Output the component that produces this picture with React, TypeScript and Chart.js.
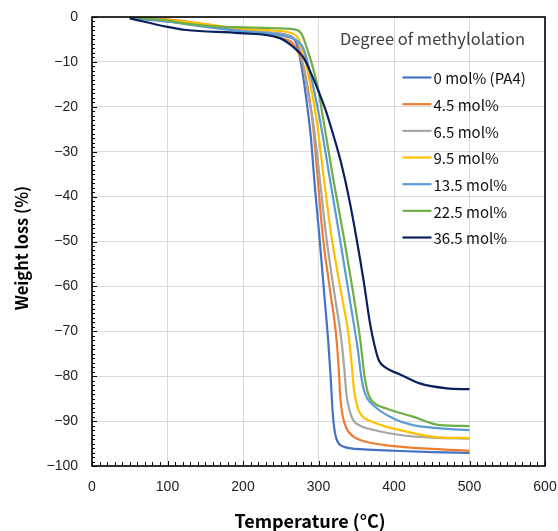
import React, { useEffect, useRef } from "react";
import { Chart, registerables } from "chart.js";

Chart.register(...registerables);

// ---- Data ----
const seriesLabels = ["0 mol% (PA4)", "4.5 mol%", "6.5 mol%", "9.5 mol%", "13.5 mol%", "22.5 mol%", "36.5 mol%"];
const seriesColors = ["#4472C4", "#ED7D31", "#A5A5A5", "#FFC000", "#5B9BD5", "#70AD47", "#0B1F5E"];
const legendTitle = "Degree of methylolation";
const xTitle = "Temperature (°C)";
const yTitle = "Weight loss (%)";
const xTicks = [0, 100, 200, 300, 400, 500, 600];
const yTicks = [0, -10, -20, -30, -40, -50, -60, -70, -80, -90, -100];

const temp0 = [50, 100, 150, 200, 240, 258, 271, 278, 284, 290, 295, 301, 307, 313, 316, 319, 322, 326, 335, 360, 400, 450, 500];
const loss0 = [-0.2, -1.0, -2.0, -3.0, -3.6, -4.0, -6.0, -11.5, -18.5, -27, -37.5, -48.5, -60.5, -72.5, -80, -88.5, -92.8, -94.8, -95.8, -96.3, -96.6, -96.9, -97.1];

const temp45 = [50, 100, 150, 200, 230, 249, 266, 280, 286, 292, 299, 305.5, 315, 324, 327, 329, 332, 337, 345, 355, 386, 450, 500];
const loss45 = [0, -0.5, -1.6, -3.0, -3.8, -4.7, -5.9, -11, -16, -23, -36, -48.5, -60.5, -72, -79, -85, -88.8, -91.6, -93.3, -94.2, -95.3, -96.2, -96.6];

const temp65 = [50, 100, 150, 200, 240, 262, 273, 280, 287, 293, 302, 310, 321, 330, 334, 337, 341, 346, 355, 364, 408, 452, 500];
const loss65 = [-0.1, -0.8, -1.8, -2.9, -3.5, -4.4, -5.9, -11, -18, -23.5, -36.5, -48.5, -61.5, -71.5, -78, -84, -87.5, -89.8, -91, -91.6, -93.1, -93.7, -93.9];

const temp95 = [50, 100, 150, 200, 240, 262, 273, 280, 289, 298, 306, 316, 329, 340, 344, 347, 351, 356, 370, 408, 452, 500];
const loss95 = [0, -0.7, -1.6, -2.6, -3.0, -3.5, -4.7, -8.1, -14.8, -23.5, -34.5, -47.5, -60.5, -71, -77.5, -83, -86.5, -88.5, -90.1, -92, -93.5, -93.8];

const temp135 = [50, 100, 150, 200, 240, 253, 268, 280, 289, 302, 315, 328, 341, 352, 357, 362, 375, 399, 425, 461, 500];
const loss135 = [-0.1, -1.0, -2.2, -3.2, -3.8, -4.2, -5.0, -7.0, -12.5, -23, -36, -49, -62.5, -74, -80.5, -84, -86.8, -89.4, -90.9, -91.6, -92.0];

const temp225 = [50, 100, 130, 174, 200, 245, 266, 277, 284, 293, 300, 306, 313, 320, 334, 344, 355, 361, 366, 372, 390, 425, 461, 500];
const loss225 = [0, -0.8, -1.6, -2.2, -2.3, -2.5, -2.7, -3.6, -6.6, -11.5, -16.5, -22.5, -29.5, -36.5, -49.5, -59.5, -71.5, -80, -84, -85.7, -87.2, -89, -90.9, -91.1];

const temp365 = [50, 100, 125, 196, 249, 266, 280, 290, 300, 310, 320, 330, 340, 350, 360, 368, 374, 380, 390, 408, 434, 470, 500];
const loss365 = [-0.3, -2.2, -2.9, -3.6, -4.7, -6.6, -9, -12.5, -16.5, -21, -26.5, -32.5, -40, -49, -59, -68, -73, -76.5, -78.2, -79.6, -81.6, -82.7, -82.9];

const seriesTemps = [temp0, temp45, temp65, temp95, temp135, temp225, temp365];
const seriesLoss = [loss0, loss45, loss65, loss95, loss135, loss225, loss365];

const JP = "'Noto Sans CJK JP', 'Noto Sans', sans-serif";
const TICKFONT = "'Liberation Sans', Arial, sans-serif";

const framePlugin = {
  id: "frameAndLegend",
  afterDatasetsDraw(chart: any) {
    const { ctx, chartArea: a, scales } = chart;
    const x = scales.x;
    const y = scales.y;
    ctx.save();
    // minor + major tick marks (inside the plot)
    ctx.strokeStyle = "#000";
    ctx.lineWidth = 1;
    ctx.beginPath();
    for (let v = xTicks[0]; v <= xTicks[xTicks.length - 1]; v += 10) {
      const px = Math.round(x.getPixelForValue(v)) + 0.5;
      const len = v % 100 === 0 ? 5 : 4;
      ctx.moveTo(px, a.bottom);
      ctx.lineTo(px, a.bottom - len);
    }
    for (let v = -100; v <= 0; v += 1) {
      const py = Math.round(y.getPixelForValue(v)) + 0.5;
      const len = v % 10 === 0 ? 5 : 3;
      ctx.moveTo(a.left, py);
      ctx.lineTo(a.left + len, py);
    }
    ctx.stroke();
    // frame
    ctx.lineWidth = 1.6;
    ctx.strokeRect(a.left, a.top, a.right - a.left, a.bottom - a.top);

    // axis titles
    ctx.fillStyle = "#000";
    ctx.textAlign = "center";
    ctx.textBaseline = "middle";
    ctx.font = `bold 18px ${JP}`;
    ctx.fillText(xTitle, 310, 521);
    ctx.save();
    ctx.translate(21.5, 248);
    ctx.rotate(-Math.PI / 2);
    ctx.font = `bold 16.5px ${JP}`;
    ctx.fillText(yTitle, 0, 0);
    ctx.restore();

    // legend
    ctx.textBaseline = "middle";
    ctx.textAlign = "left";
    ctx.fillStyle = "#404040";
    ctx.font = `16.5px ${JP}`;
    ctx.fillText(legendTitle, 340, 39);
    ctx.font = `15px ${JP}`;
    chart.data.datasets.forEach((ds: any, i: number) => {
      const cy = 77.5 + i * 26.67;
      ctx.strokeStyle = ds.borderColor;
      ctx.lineWidth = 2.2;
      ctx.beginPath();
      ctx.moveTo(402.5, cy);
      ctx.lineTo(431.5, cy);
      ctx.stroke();
      ctx.fillStyle = "#111";
      ctx.fillText(ds.label, 433.5, cy + 1);
    });
    ctx.restore();
  },
};

export default function App() {
  const ref = useRef<HTMLCanvasElement | null>(null);
  useEffect(() => {
    if (!ref.current) return;
    const datasets = seriesLabels.map((label, i) => ({
      label,
      data: seriesTemps[i].map((t, j) => ({ x: t, y: seriesLoss[i][j] })),
      borderColor: seriesColors[i],
      backgroundColor: seriesColors[i],
      borderWidth: 2.2,
      pointRadius: 0,
      cubicInterpolationMode: "monotone" as const,
      fill: false,
      order: seriesLabels.length - 1 - i,
    }));
    const chart = new Chart(ref.current, {
      type: "line",
      data: { datasets },
      options: {
        animation: false,
        responsive: false,
        devicePixelRatio: 1,
        layout: { padding: { top: 17, right: 13, left: 0, bottom: 0 } },
        plugins: { legend: { display: false }, tooltip: { enabled: false } },
        scales: {
          x: {
            type: "linear",
            min: xTicks[0],
            max: xTicks[xTicks.length - 1],
            afterBuildTicks: (s: any) => {
              s.ticks = xTicks.map((v) => ({ value: v }));
            },
            afterFit: (s: any) => {
              s.height = 65;
              s.paddingLeft = 0;
              s.paddingRight = 0;
            },
            grid: { color: "#d9d9d9", lineWidth: 1, drawTicks: false },
            border: { display: false },
            ticks: { padding: 13, color: "#222", font: { size: 14, family: TICKFONT } },
            title: { display: false },
          },
          y: {
            type: "linear",
            min: -100,
            max: 0,
            afterBuildTicks: (s: any) => {
              s.ticks = yTicks.map((v) => ({ value: v }));
            },
            afterFit: (s: any) => {
              s.width = 92;
              s.paddingTop = 0;
              s.paddingBottom = 0;
            },
            grid: { color: "#d9d9d9", lineWidth: 1, drawTicks: false },
            border: { display: false },
            ticks: {
              padding: 14,
              color: "#222",
              font: { size: 14, family: TICKFONT },
              callback: (v: any) => (Number(v) < 0 ? "\u2212" + Math.abs(Number(v)) : String(v)),
            },
            title: { display: false },
          },
        },
      },
      plugins: [framePlugin],
    });
    return () => chart.destroy();
  }, []);
  return (
    <div style={{ position: "fixed", left: 0, top: 0, width: 558, height: 531, background: "#fff" }}>
      <canvas ref={ref} width={558} height={531} style={{ display: "block", width: 558, height: 531 }} />
    </div>
  );
}
